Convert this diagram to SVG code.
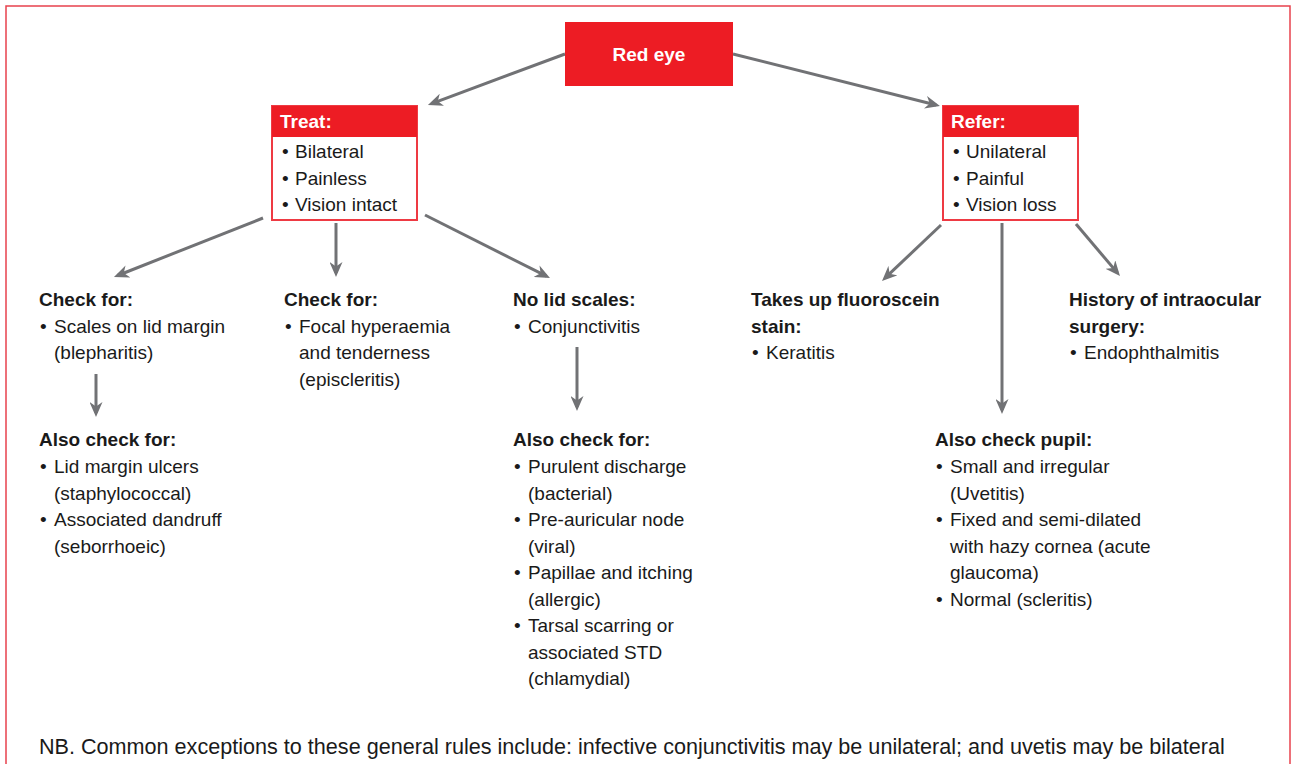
<svg xmlns="http://www.w3.org/2000/svg" width="1292" height="764" viewBox="0 0 1292 764">
<defs>
<style>
text{font-family:"Liberation Sans",Arial,Helvetica,sans-serif;font-size:19px;fill:#1a1a1a}
.b{font-weight:bold}
.w{fill:#ffffff;font-weight:bold}
.hdr{fill:#ed1c24}
.box{fill:#ffffff;stroke:#ee3a43;stroke-width:2}
.nb{font-size:21.6px}
.conn line{stroke:#717275;stroke-width:3;marker-end:url(#ah)}
</style>
<marker id="ah" viewBox="0 0 15 13" markerWidth="15" markerHeight="13" refX="11" refY="6.5" orient="auto" markerUnits="userSpaceOnUse">
<path d="M0,0 L15,6.5 L0,13 L4.5,6.5 Z" fill="#717275"/>
</marker>
</defs>
<rect x="6" y="6" width="1284" height="800" fill="#ffffff" stroke="#e8424d" stroke-width="1.5"/>

<g id="connectors" class="conn">
<line x1="565" y1="54" x2="431.7" y2="103.6"/>
<line x1="733" y1="54" x2="936.1" y2="105"/>
<line x1="263" y1="218" x2="117.7" y2="275.5"/>
<line x1="336" y1="223" x2="336" y2="273"/>
<line x1="425" y1="215" x2="546.4" y2="276.2"/>
<line x1="96" y1="374" x2="96" y2="413"/>
<line x1="577" y1="347" x2="577" y2="407"/>
<line x1="941" y1="225" x2="884.9" y2="278.2"/>
<line x1="1002" y1="223" x2="1002" y2="410"/>
<line x1="1076" y1="224" x2="1117.4" y2="272.9"/>
</g>

<g id="red-eye">
<rect x="565" y="22" width="168" height="64" class="hdr"/>
<text x="649" y="61" class="w" text-anchor="middle">Red eye</text>
</g>

<g id="treat">
<rect x="272" y="106" width="145" height="114" class="box"/>
<rect x="272" y="106" width="145" height="31" class="hdr"/>
<text x="280" y="128" class="w">Treat:</text>
<text x="282" y="158">•<tspan x="295">Bilateral</tspan></text>
<text x="282" y="185">•<tspan x="295">Painless</tspan></text>
<text x="282" y="211">•<tspan x="295">Vision intact</tspan></text>
</g>

<g id="refer">
<rect x="943" y="106" width="135" height="114" class="box"/>
<rect x="943" y="106" width="135" height="31" class="hdr"/>
<text x="951" y="128" class="w">Refer:</text>
<text x="953" y="158">•<tspan x="966">Unilateral</tspan></text>
<text x="953" y="185">•<tspan x="966">Painful</tspan></text>
<text x="953" y="211">•<tspan x="966">Vision loss</tspan></text>
</g>

<g id="check-scales">
<text x="39" y="306" class="b">Check for:</text>
<text x="40" y="333">•<tspan x="54">Scales on lid margin</tspan></text>
<text x="54" y="359">(blepharitis)</text>
</g>

<g id="also-check-lid">
<text x="39" y="446" class="b">Also check for:</text>
<text x="40" y="473">•<tspan x="54">Lid margin ulcers</tspan></text>
<text x="54" y="499.5">(staphylococcal)</text>
<text x="40" y="526">•<tspan x="54">Associated dandruff</tspan></text>
<text x="54" y="552.5">(seborrhoeic)</text>
</g>

<g id="check-focal">
<text x="284" y="306" class="b">Check for:</text>
<text x="285" y="333">•<tspan x="299">Focal hyperaemia</tspan></text>
<text x="299" y="359">and tenderness</text>
<text x="299" y="386">(episcleritis)</text>
</g>

<g id="no-lid-scales">
<text x="513" y="306" class="b">No lid scales:</text>
<text x="514" y="333">•<tspan x="528">Conjunctivitis</tspan></text>
</g>

<g id="also-check-conj">
<text x="513" y="446" class="b">Also check for:</text>
<text x="514" y="473">•<tspan x="528">Purulent discharge</tspan></text>
<text x="528" y="499.5">(bacterial)</text>
<text x="514" y="526">•<tspan x="528">Pre-auricular node</tspan></text>
<text x="528" y="552.5">(viral)</text>
<text x="514" y="579">•<tspan x="528">Papillae and itching</tspan></text>
<text x="528" y="605.5">(allergic)</text>
<text x="514" y="632">•<tspan x="528">Tarsal scarring or</tspan></text>
<text x="528" y="658.5">associated STD</text>
<text x="528" y="685">(chlamydial)</text>
</g>

<g id="fluoroscein">
<text x="751" y="306" class="b">Takes up fluoroscein</text>
<text x="751" y="333" class="b">stain:</text>
<text x="752" y="359">•<tspan x="766">Keratitis</tspan></text>
</g>

<g id="surgery">
<text x="1069" y="306" class="b">History of intraocular</text>
<text x="1069" y="333" class="b">surgery:</text>
<text x="1070" y="359">•<tspan x="1084">Endophthalmitis</tspan></text>
</g>

<g id="pupil">
<text x="935" y="446" class="b">Also check pupil:</text>
<text x="936" y="473">•<tspan x="950">Small and irregular</tspan></text>
<text x="950" y="499.5">(Uvetitis)</text>
<text x="936" y="526">•<tspan x="950">Fixed and semi-dilated</tspan></text>
<text x="950" y="552.5">with hazy cornea (acute</text>
<text x="950" y="579">glaucoma)</text>
<text x="936" y="605.5">•<tspan x="950">Normal (scleritis)</tspan></text>
</g>

<g id="note">
<text x="39" y="754" class="nb">NB. Common exceptions to these general rules include: infective conjunctivitis may be unilateral; and uvetis may be bilateral</text>
</g>
</svg>
